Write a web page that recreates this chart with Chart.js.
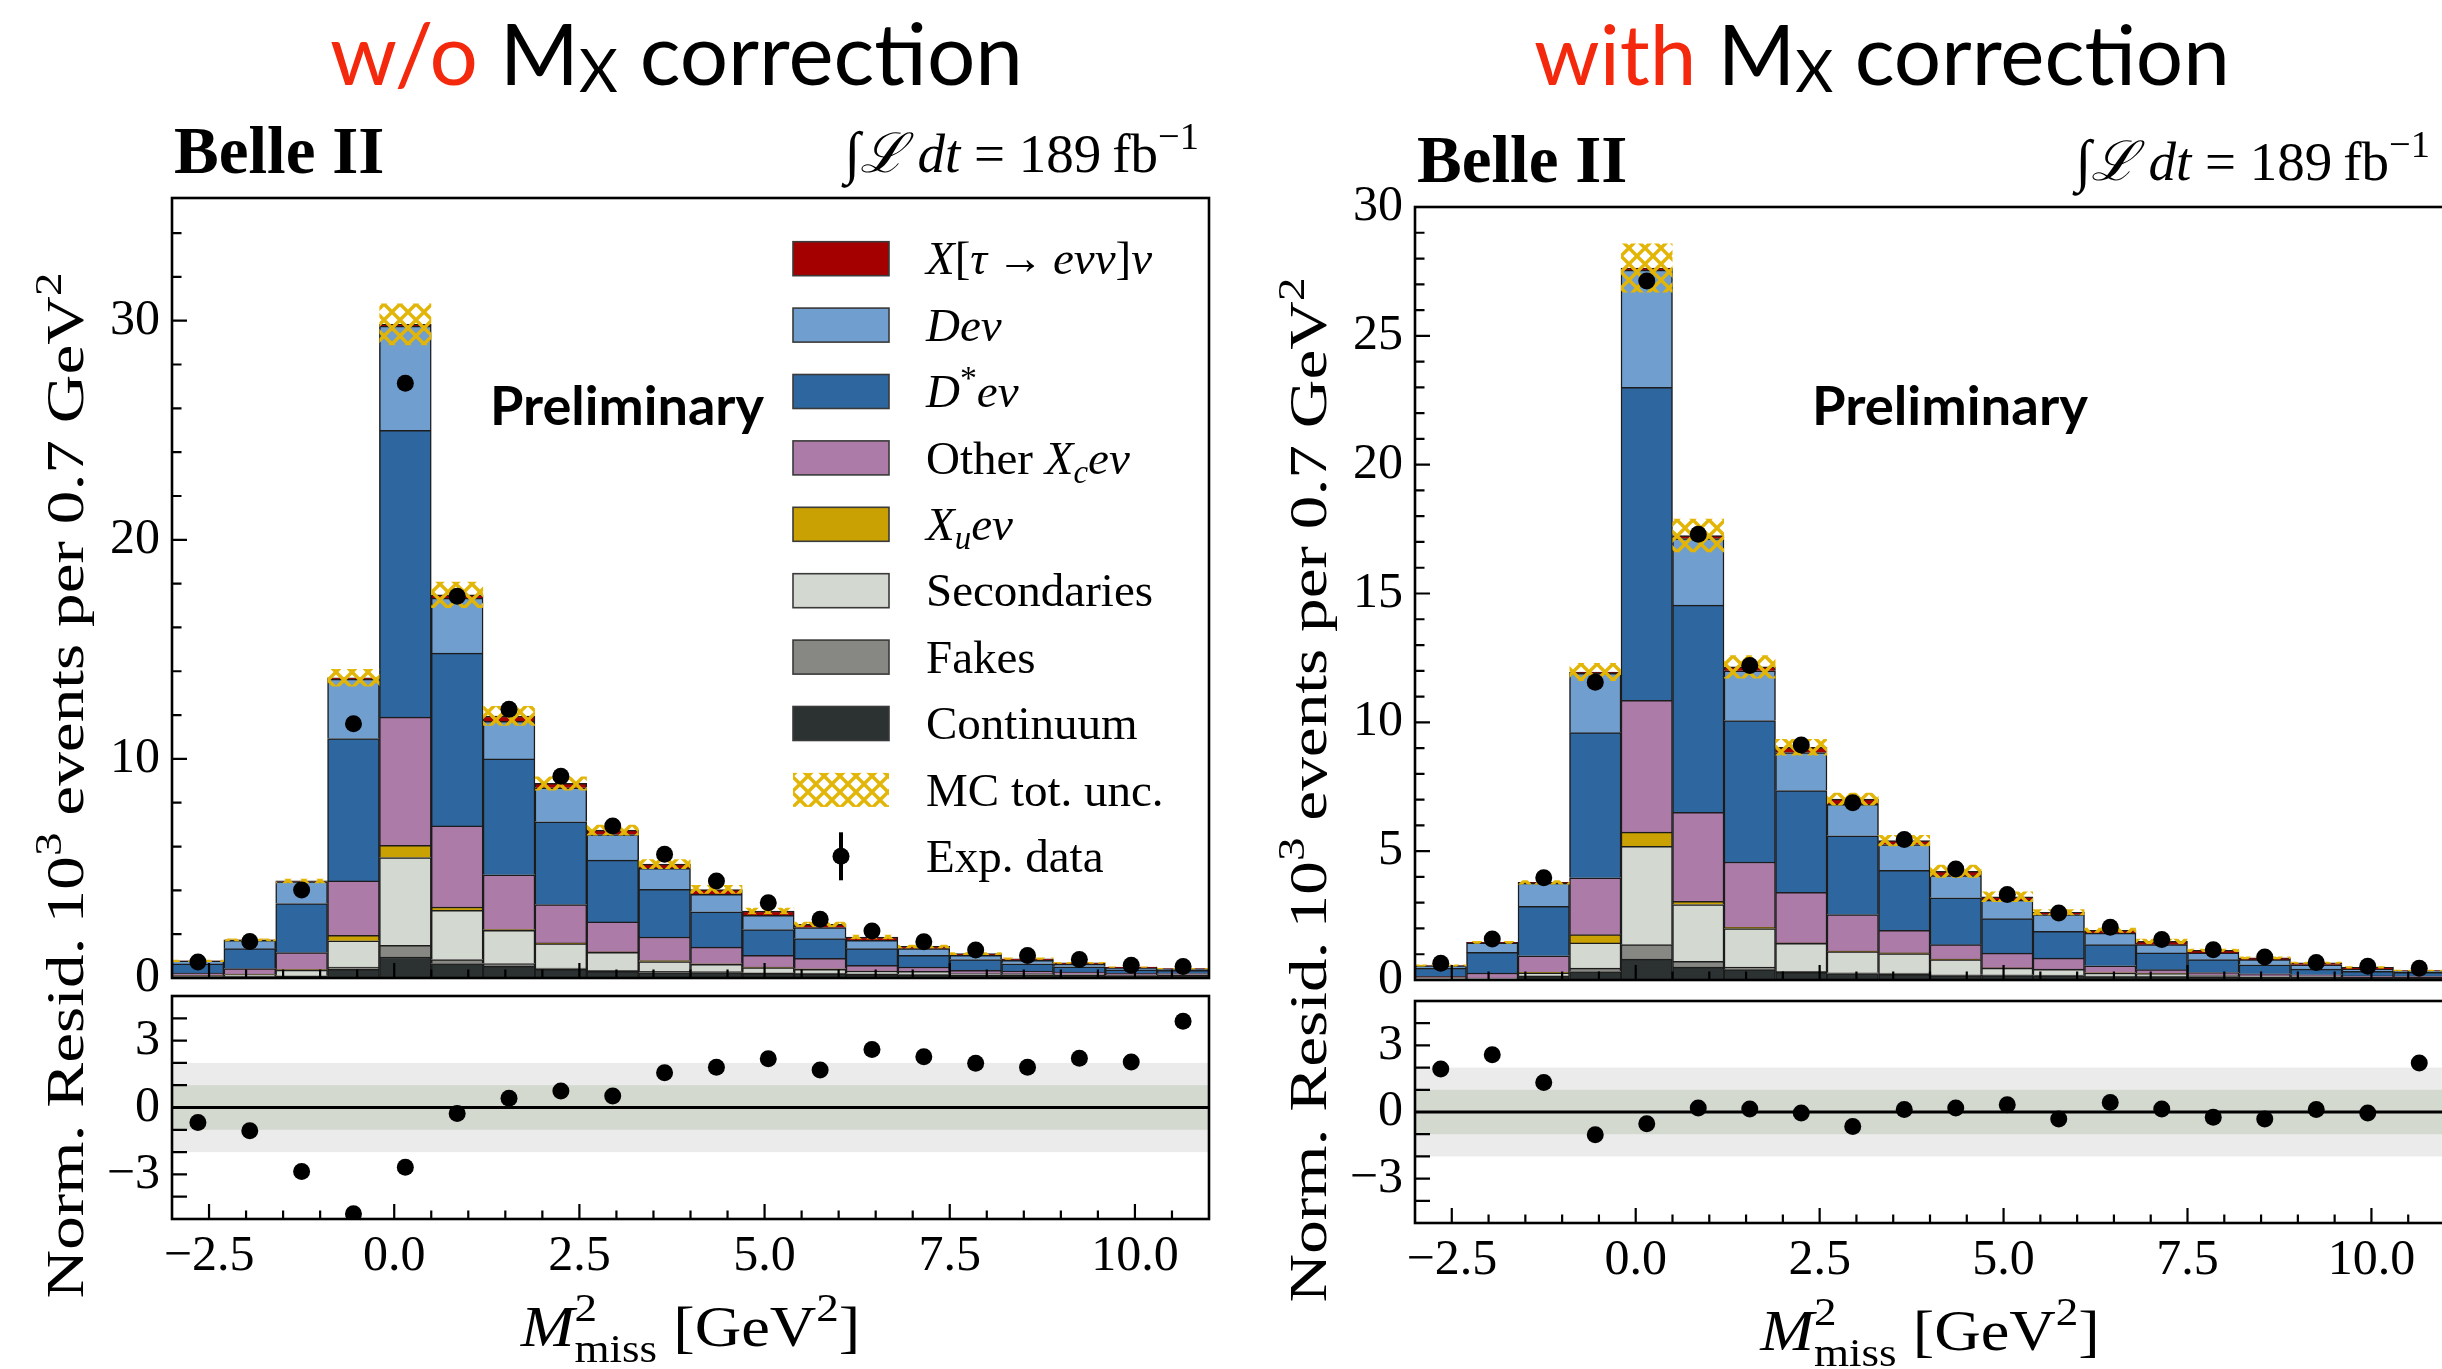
<!DOCTYPE html>
<html>
<head>
<meta charset="utf-8">
<title>Mmiss2 with and without Mx correction</title>
<script src="https://cdn.jsdelivr.net/npm/chart.js@4.4.1/dist/chart.umd.min.js"></script>
<style>
  html, body { margin: 0; padding: 0; background: #fff; overflow: hidden; }
  body { width: 2442px; height: 1369px; position: relative; }
  canvas { position: absolute; top: 0; }
</style>
</head>
<body>
<canvas id="lMain" width="1221" height="1369" style="left:0;width:1221px;height:1369px"></canvas>
<canvas id="lRes" width="1221" height="1369" style="left:0;width:1221px;height:1369px"></canvas>
<canvas id="rMain" width="1240" height="1369" style="left:1221px;width:1240px;height:1369px"></canvas>
<canvas id="rRes" width="1240" height="1369" style="left:1221px;width:1240px;height:1369px"></canvas>
<script>
// bins of 0.7 GeV^2 from -3 to 11
var binCenters = [-2.65, -1.95, -1.25, -0.55, 0.15, 0.85, 1.55, 2.25, 2.95, 3.65,
                  4.35, 5.05, 5.75, 6.45, 7.15, 7.85, 8.55, 9.25, 9.95, 10.65];

// ---- w/o Mx correction (10^3 events) ----
var contL  = [0.04, 0.05, 0.08, 0.40, 0.96, 0.66, 0.54, 0.40, 0.30, 0.25, 0.25, 0.21, 0.20, 0.17, 0.16, 0.13, 0.14, 0.12, 0.11, 0.12];
var fakesL = [0.02, 0.02, 0.02, 0.10, 0.53, 0.18, 0.12, 0.05, 0.05, 0.05, 0.04, 0.03, 0.02, 0.02, 0.02, 0.01, 0.01, 0.01, 0.01, 0.01];
var secL   = [0.05, 0.09, 0.26, 1.20, 4.01, 2.25, 1.52, 1.12, 0.82, 0.45, 0.33, 0.24, 0.18, 0.12, 0.12, 0.06, 0.05, 0.04, 0.03, 0.02];
var xuL    = [0.01, 0.02, 0.02, 0.25, 0.55, 0.15, 0.03, 0.03, 0.02, 0.05, 0.03, 0.02, 0.02, 0.01, 0.00, 0.00, 0.00, 0.00, 0.00, 0.00];
var xcL    = [0.11, 0.25, 0.78, 2.48, 5.86, 3.70, 2.50, 1.75, 1.37, 1.07, 0.76, 0.53, 0.48, 0.26, 0.20, 0.15, 0.12, 0.10, 0.06, 0.05];
var dstL   = [0.42, 0.91, 2.24, 6.50, 13.09, 7.89, 5.29, 3.78, 2.82, 2.18, 1.61, 1.18, 0.90, 0.76, 0.53, 0.49, 0.33, 0.24, 0.16, 0.15];
var dL     = [0.12, 0.38, 1.00, 2.71, 4.75, 2.51, 1.72, 1.55, 1.17, 0.95, 0.80, 0.65, 0.50, 0.38, 0.31, 0.19, 0.16, 0.12, 0.08, 0.05];
var tauL   = [0.01, 0.02, 0.03, 0.06, 0.08, 0.15, 0.24, 0.20, 0.20, 0.20, 0.22, 0.20, 0.15, 0.15, 0.10, 0.08, 0.07, 0.06, 0.05, 0.03];
var uncL   = [0.05, 0.06, 0.10, 0.40, 0.95, 0.60, 0.45, 0.32, 0.25, 0.22, 0.20, 0.15, 0.12, 0.10, 0.08, 0.06, 0.05, 0.04, 0.03, 0.03];
var dataL  = [0.73, 1.67, 4.02, 11.6, 27.15, 17.42, 12.27, 9.21, 6.94, 5.65, 4.43, 3.43, 2.68, 2.15, 1.65, 1.28, 1.03, 0.84, 0.58, 0.53];
var residL = [-0.67, -1.04, -2.87, -4.76, -2.68, -0.27, 0.41, 0.74, 0.52, 1.56, 1.81, 2.19, 1.68, 2.60, 2.28, 1.98, 1.81, 2.21, 2.04, 3.87];

// ---- with Mx correction ----
var contR  = [0.03, 0.03, 0.14, 0.33, 0.81, 0.50, 0.40, 0.30, 0.25, 0.22, 0.17, 0.17, 0.17, 0.13, 0.13, 0.12, 0.10, 0.10, 0.10, 0.10];
var fakesR = [0.01, 0.01, 0.02, 0.13, 0.56, 0.22, 0.10, 0.04, 0.03, 0.05, 0.03, 0.03, 0.02, 0.02, 0.02, 0.01, 0.01, 0.01, 0.00, 0.00];
var secR   = [0.03, 0.03, 0.12, 0.98, 3.82, 2.21, 1.50, 1.08, 0.82, 0.76, 0.59, 0.26, 0.22, 0.12, 0.10, 0.06, 0.05, 0.03, 0.02, 0.02];
var xuR    = [0.01, 0.00, 0.02, 0.32, 0.55, 0.12, 0.04, 0.02, 0.02, 0.02, 0.02, 0.01, 0.01, 0.01, 0.01, 0.00, 0.00, 0.00, 0.00, 0.00];
var xcR    = [0.06, 0.20, 0.64, 2.21, 5.11, 3.46, 2.54, 1.96, 1.42, 0.88, 0.56, 0.57, 0.43, 0.27, 0.14, 0.10, 0.08, 0.06, 0.04, 0.03];
var dstR   = [0.32, 0.80, 1.92, 5.63, 12.15, 8.04, 5.49, 3.95, 3.06, 2.33, 1.82, 1.34, 1.04, 0.82, 0.65, 0.50, 0.35, 0.22, 0.18, 0.15];
var dR     = [0.09, 0.37, 0.90, 2.30, 4.55, 2.58, 1.93, 1.48, 1.22, 1.00, 0.86, 0.72, 0.65, 0.45, 0.32, 0.26, 0.20, 0.17, 0.08, 0.05];
var tauR   = [0.01, 0.02, 0.03, 0.05, 0.08, 0.12, 0.15, 0.20, 0.20, 0.15, 0.17, 0.13, 0.09, 0.11, 0.13, 0.10, 0.07, 0.08, 0.07, 0.02];
var uncR   = [0.04, 0.05, 0.08, 0.35, 0.95, 0.65, 0.45, 0.32, 0.25, 0.22, 0.25, 0.20, 0.12, 0.10, 0.10, 0.06, 0.05, 0.04, 0.04, 0.03];
var dataR  = [0.65, 1.59, 3.97, 11.56, 27.13, 17.3, 12.21, 9.12, 6.88, 5.45, 4.31, 3.32, 2.60, 2.05, 1.57, 1.17, 0.89, 0.68, 0.53, 0.46];
var residR = [1.94, 2.58, 1.33, -1.02, -0.53, 0.18, 0.14, -0.05, -0.65, 0.11, 0.18, 0.33, -0.32, 0.43, 0.14, -0.24, -0.32, 0.11, -0.05, 2.21];

// ticks
var xMajorTicks = [-2.5, 0, 2.5, 5, 7.5, 10];
var xTickLabels = ['\u22122.5', '0.0', '2.5', '5.0', '7.5', '10.0'];
var yMajorLeft = [0, 10, 20, 30];
var yMajorRight = [0, 5, 10, 15, 20, 25, 30];
var residTicks = [-3, 0, 3];
var residTickLabels = ['\u22123', '0', '3'];

var COLORS = {
  tau: '#a40000', d: '#6f9ecf', dst: '#2e669f', xc: '#ad7ba8',
  xu: '#c9a102', sec: '#d3d8d0', fakes: '#878783', cont: '#2c3131'
};
var STACK = ['cont', 'fakes', 'sec', 'xu', 'xc', 'dst', 'd', 'tau'];
var SERIF = '"Liberation Serif", "DejaVu Serif", serif';
var SANS = 'Lato, "Open Sans", sans-serif';

function makeHatch() {
  var c = document.createElement('canvas');
  c.width = 16; c.height = 16;
  var g = c.getContext('2d');
  g.strokeStyle = '#e2b507';
  g.lineWidth = 3.4;
  g.beginPath();
  g.moveTo(-2, -2); g.lineTo(18, 18);
  g.moveTo(-2, 18); g.lineTo(18, -2);
  g.stroke();
  return g.createPattern(c, 'repeat');
}
var HATCH = makeHatch();

function fontOf(r, o) {
  var size = o.size * (r.s || 1);
  return (r.it ? 'italic ' : '') + ((r.b || o.bold) ? 'bold ' : '') + size.toFixed(2) + 'px ' + (r.fam || o.family || SERIF);
}
function rich(ctx, runs, x, y, o) {
  ctx.save();
  var measure = function () {
    var w = 0;
    runs.forEach(function (r) {
      ctx.font = fontOf(r, o);
      r._w = ctx.measureText(r.t).width;
      if (!r.ov) { w += r._w; }
    });
    return w;
  };
  var w = measure();
  if (o.fitW) { o = Object.assign({}, o, { size: o.size * o.fitW / w }); w = measure(); }
  ctx.translate(x, y);
  if (o.rot) { ctx.rotate(o.rot); }
  ctx.scale(o.sx || 1, 1);
  var cx = o.align === 'center' ? -w / 2 : (o.align === 'right' ? -w : 0);
  ctx.textAlign = 'left';
  ctx.textBaseline = 'alphabetic';
  runs.forEach(function (r) {
    ctx.font = fontOf(r, o);
    ctx.fillStyle = r.c || o.color || '#000';
    ctx.fillText(r.t, cx, (r.dy || 0) * o.size);
    if (!r.ov) { cx += r._w; }
  });
  ctx.restore();
}
function ladder(min, max, step) {
  var out = [];
  for (var k = Math.ceil(min / step - 1e-9); k * step <= max + 1e-9; k++) { out.push(+(k * step).toFixed(6)); }
  return out;
}

var LEGEND = [
  { fill: COLORS.tau, runs: [{ t: 'X', it: 1 }, { t: '[' }, { t: '\u03c4', it: 1 }, { t: '\u2009\u2192\u2009' }, { t: 'e\u03bd\u03bd', it: 1 }, { t: ']' }, { t: '\u03bd', it: 1 }] },
  { fill: COLORS.d, runs: [{ t: 'De\u03bd', it: 1 }] },
  { fill: COLORS.dst, runs: [{ t: 'D', it: 1 }, { t: '*', s: 0.72, dy: -0.38 }, { t: 'e\u03bd', it: 1 }] },
  { fill: COLORS.xc, runs: [{ t: 'Other ' }, { t: 'X', it: 1 }, { t: 'c', it: 1, s: 0.7, dy: 0.2 }, { t: 'e\u03bd', it: 1 }] },
  { fill: COLORS.xu, runs: [{ t: 'X', it: 1 }, { t: 'u', it: 1, s: 0.7, dy: 0.2 }, { t: 'e\u03bd', it: 1 }] },
  { fill: COLORS.sec, runs: [{ t: 'Secondaries' }] },
  { fill: COLORS.fakes, runs: [{ t: 'Fakes' }] },
  { fill: COLORS.cont, runs: [{ t: 'Continuum' }] },
  { hatch: true, runs: [{ t: 'MC tot. unc.' }] },
  { point: true, runs: [{ t: 'Exp. data' }] }
];

var decor = {
  id: 'decor',
  beforeDatasetsDraw: function (chart, args, o) {
    if (!o.bands) { return; }
    var ctx = chart.ctx, a = chart.chartArea, y = chart.scales.y;
    ctx.save();
    ctx.fillStyle = '#ebebeb';
    ctx.fillRect(a.left, y.getPixelForValue(2), a.right - a.left, y.getPixelForValue(-2) - y.getPixelForValue(2));
    ctx.fillStyle = '#d3d9cf';
    ctx.fillRect(a.left, y.getPixelForValue(1), a.right - a.left, y.getPixelForValue(-1) - y.getPixelForValue(1));
    ctx.strokeStyle = '#000';
    ctx.lineWidth = 3;
    ctx.beginPath();
    ctx.moveTo(a.left, y.getPixelForValue(0));
    ctx.lineTo(a.right, y.getPixelForValue(0));
    ctx.stroke();
    ctx.restore();
  },
  afterDraw: function (chart, args, o) {
    var ctx = chart.ctx, a = chart.chartArea, x = chart.scales.x, y = chart.scales.y;
    ctx.save();
    // inward ticks
    ctx.strokeStyle = '#000';
    ctx.lineWidth = 2.2;
    ctx.beginPath();
    ladder(x.min, x.max, 0.5).forEach(function (v) {
      if (v <= x.min || v >= x.max) { return; }
      var px = x.getPixelForValue(v);
      var len = xMajorTicks.indexOf(v) >= 0 ? 15 : 8.5;
      ctx.moveTo(px, a.bottom); ctx.lineTo(px, a.bottom - len);
    });
    ladder(y.min, y.max, o.yMinor).forEach(function (v) {
      if (v <= y.min || v >= y.max) { return; }
      var py = y.getPixelForValue(v);
      var len = o.yMajor.indexOf(v) >= 0 ? 15 : 9.5;
      if (o.allMajor) { len = 15; }
      ctx.moveTo(a.left, py); ctx.lineTo(a.left + len, py);
    });
    ctx.stroke();
    // frame
    ctx.lineWidth = 2.6;
    ctx.strokeRect(a.left, a.top, a.right - a.left, a.bottom - a.top);
    // y tick labels
    ctx.fillStyle = '#000';
    ctx.font = '50px ' + SERIF;
    ctx.textAlign = 'right';
    ctx.textBaseline = 'middle';
    o.yMajor.forEach(function (v, i) {
      if (o.yLabels[i] === undefined) { return; }
      ctx.fillText(o.yLabels[i], a.left - 12, y.getPixelForValue(v));
    });
    // x tick labels + title
    if (o.xLabels) {
      xMajorTicks.forEach(function (v, i) {
        rich(ctx, [{ t: xTickLabels[i] }], x.getPixelForValue(v), a.bottom + 51, { size: 50, align: 'center' });
      });
      rich(ctx, [{ t: 'M', it: 1 }, { t: '2', s: 0.7, dy: -0.45, ov: 1 }, { t: 'miss', s: 0.7, dy: 0.28 },
                 { t: ' [GeV' }, { t: '2', s: 0.7, dy: -0.45 }, { t: ']' }],
           (a.left + a.right) / 2, a.bottom + 127, { size: 56, align: 'center', sx: 1.15 });
    }
    // rotated y title
    rich(ctx, o.yTitle, o.yTitleX, o.yTitleY, { size: 53, align: 'center', rot: -Math.PI / 2, sx: 1.27 });
    // free texts
    (o.texts || []).forEach(function (t) { rich(ctx, t.runs, t.x, t.y, t); });
    // legend
    if (o.legend) {
      var lx = o.legend.x, ly = o.legend.y;
      LEGEND.forEach(function (e, i) {
        var top = ly + i * 66.4, cy = top + 17;
        if (e.point) {
          ctx.strokeStyle = '#000'; ctx.lineWidth = 4;
          ctx.beginPath(); ctx.moveTo(lx + 48, cy - 24); ctx.lineTo(lx + 48, cy + 24); ctx.stroke();
          ctx.fillStyle = '#000';
          ctx.beginPath(); ctx.arc(lx + 48, cy, 8.5, 0, Math.PI * 2); ctx.fill();
        } else if (e.hatch) {
          ctx.fillStyle = HATCH; ctx.fillRect(lx, top, 96, 34);
        } else {
          ctx.fillStyle = e.fill; ctx.fillRect(lx, top, 96, 34);
          ctx.strokeStyle = '#3a3a3a'; ctx.lineWidth = 1.6; ctx.strokeRect(lx, top, 96, 34);
        }
        rich(ctx, e.runs, lx + 133, cy + 15.6, { size: 47 });
      });
    }
    ctx.restore();
  }
};

function comps(cont, fakes, sec, xu, xc, dst, d, tau) {
  return { cont: cont, fakes: fakes, sec: sec, xu: xu, xc: xc, dst: dst, d: d, tau: tau };
}

function mainChart(id, c, unc, data, yMax, pad, deco) {
  var tot = binCenters.map(function (_, i) {
    return STACK.reduce(function (s, k) { return s + c[k][i]; }, 0);
  });
  var datasets = [{
    type: 'line', label: 'Exp. data', order: 0, stack: 'data', showLine: false, clip: false,
    data: binCenters.map(function (x, i) { return { x: x, y: data[i] }; }),
    pointRadius: 8.5, pointHoverRadius: 8.5, pointBackgroundColor: '#000', pointBorderWidth: 0
  }, {
    type: 'bar', label: 'MC tot. unc.', order: 1, stack: 'unc', grouped: false,
    barPercentage: 1, categoryPercentage: 1, inflateAmount: 0, borderWidth: 0, backgroundColor: HATCH,
    data: binCenters.map(function (x, i) { return { x: x, y: [tot[i] - unc[i], tot[i] + unc[i]] }; })
  }];
  STACK.forEach(function (k) {
    datasets.push({
      type: 'bar', label: k, order: 2, stack: 'mc', grouped: false,
      barPercentage: 1, categoryPercentage: 1,
      backgroundColor: COLORS[k], borderColor: '#1c1c1c', borderWidth: 1.5,
      data: binCenters.map(function (x, i) { return { x: x, y: c[k][i] }; })
    });
  });
  return new Chart(document.getElementById(id), {
    type: 'bar',
    data: { datasets: datasets },
    options: {
      responsive: false, animation: false, events: [], devicePixelRatio: 1,
      layout: { padding: pad },
      scales: {
        x: { type: 'linear', min: -3, max: 11, offset: false, display: false, ticks: { stepSize: 1 }, grid: { offset: false } },
        y: { type: 'linear', min: 0, max: yMax, stacked: true, display: false }
      },
      plugins: { legend: { display: false }, tooltip: { enabled: false }, decor: deco }
    },
    plugins: [decor]
  });
}

function residChart(id, resid, pad, deco) {
  return new Chart(document.getElementById(id), {
    type: 'scatter',
    data: { datasets: [{
      data: binCenters.map(function (x, i) { return { x: x, y: resid[i] }; }),
      pointRadius: 8.5, pointHoverRadius: 8.5, pointBackgroundColor: '#000', pointBorderWidth: 0, clip: 0
    }] },
    options: {
      responsive: false, animation: false, events: [], devicePixelRatio: 1,
      layout: { padding: pad },
      scales: {
        x: { type: 'linear', min: -3, max: 11, display: false },
        y: { type: 'linear', min: -5, max: 5, display: false }
      },
      plugins: { legend: { display: false }, tooltip: { enabled: false }, decor: deco }
    },
    plugins: [decor]
  });
}

var yTitleMain = [{ t: '10' }, { t: '3', s: 0.7, dy: -0.42 }, { t: ' events per 0.7 GeV' }, { t: '2', s: 0.7, dy: -0.42 }];
var yTitleRes = [{ t: 'Norm. Resid.' }];
var RED = '#f4280c';

function lumiRuns() {
  return [{ t: '\u222b', it: 1, s: 1.05 }, { t: '\u2112', it: 1 }, { t: '\u2009' }, { t: 'dt', it: 1 },
          { t: ' = 189\u2009fb' }, { t: '\u22121', s: 0.7, dy: -0.42 }];
}

// left panel
mainChart('lMain', comps(contL, fakesL, secL, xuL, xcL, dstL, dL, tauL), uncL, dataL, 35.6,
  { left: 172, top: 198, right: 12, bottom: 391 },
  { yMajor: yMajorLeft, yLabels: ['0', '10', '20', '30'], yMinor: 2,
    yTitle: yTitleMain, yTitleX: 83, yTitleY: 598,
    legend: { x: 793, y: 241.7 },
    texts: [
      { runs: [{ t: 'w/o ', c: RED }, { t: 'M' }, { t: 'X', s: 0.7, dy: 0.08 }, { t: ' correction' }], x: 330, y: 85, size: 80, family: SANS, fitW: 693 },
      { runs: [{ t: 'Belle II' }], x: 174, y: 173, size: 67, bold: true },
      { runs: lumiRuns(), x: 1199, y: 172, size: 55, align: 'right' },
      { runs: [{ t: 'Preliminary' }], x: 490, y: 425, size: 52, bold: true, family: SANS, fitW: 274 }
    ] });
residChart('lRes', residL, { left: 172, top: 996, right: 12, bottom: 150 },
  { bands: true, allMajor: true, yMajor: residTicks, yLabels: residTickLabels, yMinor: 1, xLabels: true,
    yTitle: yTitleRes, yTitleX: 83, yTitleY: 1118 });

// right panel (canvas origin at x = 1221)
mainChart('rMain', comps(contR, fakesR, secR, xuR, xcR, dstR, dR, tauR), uncR, dataR, 30,
  { left: 194, top: 207, right: 16, bottom: 389 },
  { yMajor: yMajorRight, yLabels: ['0', '5', '10', '15', '20', '25', '30'], yMinor: 1,
    yTitle: yTitleMain, yTitleX: 105, yTitleY: 603,
    texts: [
      { runs: [{ t: 'with ', c: RED }, { t: 'M' }, { t: 'X', s: 0.7, dy: 0.08 }, { t: ' correction' }], x: 313, y: 85, size: 80, family: SANS, fitW: 696 },
      { runs: [{ t: 'Belle II' }], x: 196, y: 182, size: 67, bold: true },
      { runs: lumiRuns(), x: 1209, y: 180, size: 55, align: 'right' },
      { runs: [{ t: 'Preliminary' }], x: 591, y: 425, size: 52, bold: true, family: SANS, fitW: 276 }
    ] });
residChart('rRes', residR, { left: 194, top: 1001, right: 16, bottom: 146 },
  { bands: true, allMajor: true, yMajor: residTicks, yLabels: residTickLabels, yMinor: 1, xLabels: true,
    yTitle: yTitleRes, yTitleX: 105, yTitleY: 1122 });
</script>
</body>
</html>
